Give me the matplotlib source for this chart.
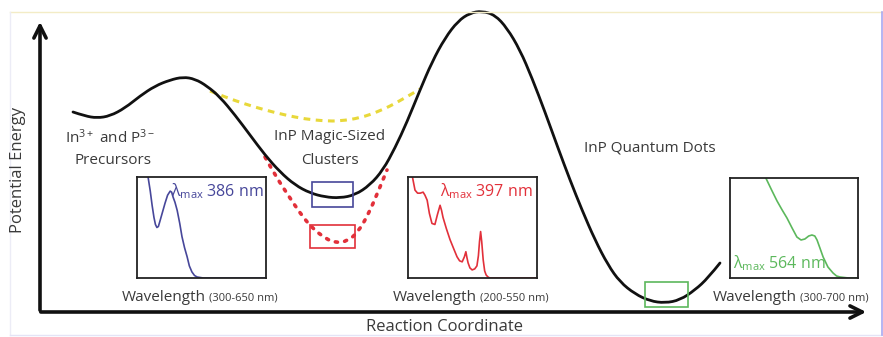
import numpy as np
import matplotlib.pyplot as plt
from matplotlib.patches import Rectangle, PathPatch
from matplotlib.path import Path

plt.rcParams['font.family'] = ['Open Sans', 'DejaVu Sans']
plt.rcParams['mathtext.fontset'] = 'custom'
plt.rcParams['mathtext.rm'] = 'Open Sans'
plt.rcParams['mathtext.it'] = 'Open Sans'

W, H = 883, 337

# energy landscape (reaction coordinate, potential energy), in picture units
rc = [73, 85, 97, 110, 125, 140, 155, 170, 183, 195, 207, 220, 235, 250, 265, 280,
      295, 310, 325, 340, 355, 370, 383, 395, 407, 420, 432, 445, 458, 470, 482,
      495, 507, 520, 532, 545, 558, 570, 582, 595, 608, 620, 635, 650, 665, 680,
      695, 708, 720]
energy = [112, 116, 118, 116, 108, 96, 86, 80, 77, 79, 86, 97, 115, 135, 155, 172,
          185, 193, 197, 198, 195, 185, 170, 148, 122, 90, 62, 38, 21, 13, 11,
          15, 28, 50, 78, 112, 148, 180, 210, 240, 265, 282, 294, 301, 303, 300,
          290, 278, 263]

# yellow dashed (alternative path)
rc_yellow = [210, 225, 245, 265, 285, 305, 325, 340, 360, 380, 400, 420]
en_yellow = [91, 97, 104, 110, 115, 119, 121, 121, 118, 111, 101, 89]

# red dotted (deeper well)
rc_red = [265, 275, 288, 300, 312, 325, 335, 348, 358, 368, 378, 387]
en_red = [157, 175, 195, 213, 228, 238, 243, 241, 232, 215, 192, 170]

# absorption spectra
wl_blue = [324, 330, 336, 341, 346, 350, 354, 358, 362, 369, 376, 383, 390, 394, 398,
           403, 409, 416, 422, 429, 436, 442, 449, 456, 463, 480, 650]
ab_blue = [1.05, 1.0, 0.86, 0.72, 0.60, 0.53, 0.50, 0.51, 0.56, 0.65, 0.74, 0.82, 0.86,
           0.85, 0.80, 0.75, 0.67, 0.54, 0.41, 0.30, 0.21, 0.12, 0.06, 0.025, 0.01, 0.0, 0.0]

wl_red = [211, 219, 226, 233, 241, 246, 252, 258, 265, 273, 280, 287, 291, 295, 304,
          314, 324, 333, 340, 347, 353, 357, 360, 363, 368, 374, 381, 387, 391, 394,
          397, 400, 404, 408, 412, 417, 422, 450, 550]
ab_red = [1.02, 0.87, 0.84, 0.84, 0.85, 0.82, 0.77, 0.64, 0.54, 0.53, 0.63, 0.72, 0.67,
          0.60, 0.49, 0.38, 0.29, 0.21, 0.17, 0.16, 0.21, 0.26, 0.20, 0.15, 0.10, 0.08,
          0.09, 0.12, 0.22, 0.36, 0.46, 0.36, 0.18, 0.07, 0.03, 0.01, 0.0, 0.0, 0.0]

wl_green = [409, 430, 447, 463, 478, 494, 509, 522, 534, 546, 556, 565, 572, 581, 591,
            606, 622, 633, 644, 670, 697]
ab_green = [1.02, 0.88, 0.77, 0.68, 0.60, 0.50, 0.41, 0.38, 0.39, 0.42, 0.43, 0.42, 0.38,
            0.30, 0.21, 0.11, 0.05, 0.02, 0.01, 0.0, 0.0]

text_c = '#3a3a3a'
blue = '#47479a'
red = '#e2303a'
green = '#5cb85c'


def smooth_path(xs, ys):
    # quadratic bezier: read points as control points, midpoints on the curve
    pts = np.column_stack([xs, ys]).astype(float)
    verts = [pts[0]]
    codes = [Path.MOVETO]
    for i in range(1, len(pts) - 1):
        mid = (pts[i] + pts[i + 1]) / 2 if i < len(pts) - 2 else pts[i + 1]
        verts += [pts[i], mid]
        codes += [Path.CURVE3, Path.CURVE3]
    return Path(verts, codes)


def draw_smooth(a, xs, ys, **kw):
    a.add_patch(PathPatch(smooth_path(xs, ys), fill=False, **kw))


fig = plt.figure(figsize=(W / 100, H / 100), dpi=100)
ax = fig.add_axes([0, 0, 1, 1])
ax.set_xlim(0, W)
ax.set_ylim(H, 0)
ax.axis('off')

# faint frame
ax.plot([10, 882], [12, 12], color='#f3ecc6', lw=1)
ax.plot([10, 10], [12, 335], color='#ececf6', lw=1)
ax.plot([10, 882], [335, 335], color='#e4e4f6', lw=1)
ax.plot([881.5, 881.5], [12, 335], color='#a8a8f0', lw=1.2)

# axes arrows
ax.annotate('', xy=(40, 19), xytext=(40, 313),
            arrowprops=dict(arrowstyle='->', lw=2.6, color='#111111', mutation_scale=22))
ax.annotate('', xy=(869, 312), xytext=(38, 312),
            arrowprops=dict(arrowstyle='->', lw=2.6, color='#111111', mutation_scale=22))
ax.text(18, 170, 'Potential Energy', rotation=90, ha='center', va='center',
        fontsize=12, color=text_c)
ax.text(445, 327, 'Reaction Coordinate', ha='center', va='center', fontsize=12, color=text_c)

# curves
draw_smooth(ax, rc_yellow, en_yellow, ec='#e8d83a', lw=2.2, ls=(0, (2.2, 1.8)))
draw_smooth(ax, rc_red, en_red, ec=red, lw=2.6, ls=(0, (0.6, 2.0)), capstyle='round')
draw_smooth(ax, rc, energy, ec='#111111', lw=2.0, capstyle='round')

# boxes on the curve
ax.add_patch(Rectangle((312, 182), 41, 25, fill=False, ec=blue, lw=1.2))
ax.add_patch(Rectangle((310, 225), 45, 23, fill=False, ec=red, lw=1.2))
ax.add_patch(Rectangle((645, 282), 43, 25, fill=False, ec=green, lw=1.2))

# labels
ax.text(110, 138, 'In$^{3+}$ and P$^{3-}$', ha='center', va='center', fontsize=11, color=text_c)
ax.text(113, 161, 'Precursors', ha='center', va='center', fontsize=11, color=text_c)
ax.text(330, 137, 'InP Magic-Sized', ha='center', va='center', fontsize=11, color=text_c)
ax.text(330, 161, 'Clusters', ha='center', va='center', fontsize=11, color=text_c)
ax.text(650, 148, 'InP Quantum Dots', ha='center', va='center', fontsize=11, color=text_c)

# wavelength captions
captions = [(206, '(300-650 nm)'), (477, '(200-550 nm)'), (797, '(300-700 nm)')]
for x, rng in captions:
    ax.text(x, 301, 'Wavelength', ha='right', va='baseline', fontsize=11, color=text_c)
    ax.text(x + 3, 301, rng, ha='left', va='baseline', fontsize=8, color=text_c)


def inset(box, wl, ab, xlim, color, label, lx, ly, ha):
    x0, y0, x1, y1 = box
    a = fig.add_axes([x0 / W, 1 - y1 / H, (x1 - x0) / W, (y1 - y0) / H])
    a.plot(wl, ab, color=color, lw=1.2)
    a.set_xlim(*xlim)
    a.set_ylim(0, 1)
    a.set_xticks([])
    a.set_yticks([])
    for s in a.spines.values():
        s.set_linewidth(1.3)
        s.set_color('#222222')
    a.text(lx, ly, label, transform=a.transAxes, ha=ha, va='center',
           fontsize=11.5, color=color)


inset((137, 177, 266, 278), wl_blue, ab_blue, (300, 650), blue,
      r'$\lambda_{\mathrm{max}}$ 386 nm', 0.98, 0.86, 'right')
inset((408, 177, 537, 278), wl_red, ab_red, (200, 550), red,
      r'$\lambda_{\mathrm{max}}$ 397 nm', 0.97, 0.86, 'right')
inset((730, 178, 858, 278), wl_green, ab_green, (300, 700), green,
      r'$\lambda_{\mathrm{max}}$ 564 nm', 0.02, 0.15, 'left')

fig.savefig('out.png', dpi=100)
